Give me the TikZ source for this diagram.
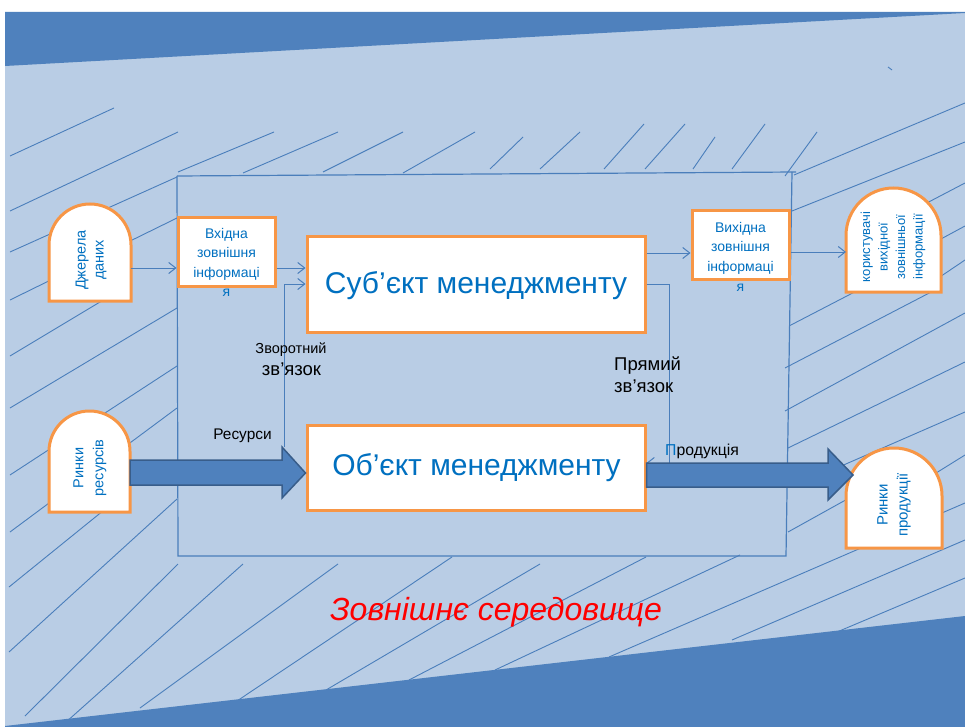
\documentclass[tikz,border=0pt]{standalone}
\usepackage{fontspec}
\setmainfont{Liberation Sans}
\usetikzlibrary{arrows.meta}
\definecolor{lightbg}{HTML}{B9CDE5}
\definecolor{darkband}{HTML}{4F81BD}
\definecolor{hatchc}{HTML}{4A7EBB}
\definecolor{orangeb}{HTML}{F79646}
\definecolor{txtblue}{HTML}{0070C0}
\definecolor{arrowdraw}{HTML}{385D8A}
\newcommand\mydome[2]{\draw[domest] (#1.south west) -- ([yshift=-#2pt]#1.north west) arc[start angle=180,end angle=0,radius=#2pt] -- (#1.south east) -- cycle;}
\begin{document}
\begin{tikzpicture}[x=1pt,y=-1pt,
  hatchline/.style={draw=hatchc, line width=0.9pt},
  framest/.style={draw=hatchc, line width=1.2pt},
  boxst/.style={draw=orangeb, line width=3pt, fill=white, inner sep=0pt},
  holder/.style={inner sep=0pt, outer sep=0pt},
  domest/.style={draw=orangeb, line width=3pt, fill=white},
  conn/.style={draw=hatchc, line width=1pt, -{Straight Barb[length=7pt,width=11pt]}},
  bigarrow/.style={fill=darkband, draw=arrowdraw, line width=1.5pt, line join=miter},
  boxtext/.style={align=center, text=txtblue, inner sep=0pt},
  rottext/.style={rotate=90, align=center, text=txtblue, inner sep=0pt},
  lbl/.style={text=black, inner sep=0pt}
]
\useasboundingbox (0,0) rectangle (965,727);
\fill[white] (0,0) rectangle (965,727);
\fill[lightbg] (5,12) rectangle (965,727);

% hatching: top
\foreach \a/\b/\c/\d in {10/156/114/108, 10/211/178/132, 178/172/274/132, 243/173/338/132,
  323/172/403/132, 403/173/475/132, 490/169/523/137, 540/169/580/132, 604/169/644/124,
  645/169/685/124, 693/169/715/137, 732/169/765/124, 785/176/817/132, 794/175/965/103,
  792/211/965/142}
  \draw[hatchline] (\a,\b) -- (\c,\d);
% hatching: left
\foreach \a/\b/\c/\d in {10/252/177/177, 10/300/177/218, 10/356/110/296, 10/408/177/308,
  10/475/177/366, 10/532/177/408, 9/587/130/489, 9/652/177/499}
  \draw[hatchline] (\a,\b) -- (\c,\d);
% hatching: right
\foreach \a/\b/\c/\d in {900/217/965/183, 915/253/965/226, 922/289/965/260, 789/326/870/284,
  785/368/935/290, 785/411/965/313, 788/448/965/362, 800/484/965/412, 920/483/965/455,
  788/532/860/492}
  \draw[hatchline] (\a,\b) -- (\c,\d);
% hatching: bottom
\foreach \a/\b/\c/\d in {25/716/178/564, 65/723/243/564, 140/708/338/564, 228/707/452/557,
  326/690/540/564, 409/680/646/557, 495/670/740/555, 609/657/965/503, 732/640/965/540,
  818/640/965/578}
  \draw[hatchline] (\a,\b) -- (\c,\d);
\draw[hatchline] (888,67) -- (892,70);

% dark bands
\fill[darkband] (5,12) -- (965,12) -- (965,13) -- (5,66) -- cycle;
\fill[darkband] (5,727) -- (5,726) -- (965,616) -- (965,727) -- cycle;

% system boundary
\draw[framest] (177,176) -- (796,172);
\draw[framest] (177,176) -- (178,556) -- (786,556) -- (792,172);

% boxes
\node[boxst, minimum width=97pt, minimum height=68pt] (in1) at (226.5,252) {};
\node[boxst, minimum width=338pt, minimum height=96pt] (subj) at (476,284) {};
\node[boxst, minimum width=338pt, minimum height=85pt] (obj) at (476,467.5) {};
\node[boxst, minimum width=97pt, minimum height=68pt] (out1) at (740.5,245) {};

% domes
\node[holder, minimum width=82pt, minimum height=97pt] (src) at (90,252.5) {};
\node[holder, minimum width=81pt, minimum height=101pt] (res) at (89.5,461.5) {};
\node[holder, minimum width=95pt, minimum height=104pt] (usr) at (893.5,240) {};
\node[holder, minimum width=96pt, minimum height=100pt] (prod) at (894,498) {};
\mydome{src}{41}
\mydome{res}{40.5}
\mydome{usr}{47.5}
\mydome{prod}{48}

% thin connectors
\coordinate (fbStart) at (284,447);
\coordinate (dirCorner) at (669,463);
\draw[conn] ([yshift=-15.5pt]src.east) -- ([yshift=-16pt]in1.west);
\draw[conn] ([yshift=-16pt]in1.east) -- ([yshift=16pt]subj.west);
\draw[conn] (fbStart) |- (subj.west);
\draw[conn] ([yshift=31pt]subj.east) -- ([yshift=-8pt]out1.west);
\draw[conn] ([yshift=-7pt]out1.east) -- (usr.west |- 0,252);
\draw[conn] (subj.east) -| (dirCorner) -- (obj.east |- dirCorner);

% big arrows
\draw[bigarrow] (res.east |- 0,460) -- (282,460) -- (282,447) -- (obj.west |- 0,473)
  -- (282,498) -- (282,485) -- (res.east |- 0,485) -- cycle;
\coordinate (prodTip) at (853,475);
\draw[bigarrow] (obj.east |- 0,463) -- (828,463) -- (828,449) -- (prodTip)
  -- (828,500) -- (828,487) -- (obj.east |- 0,487) -- cycle;

% texts
\node[boxtext, font=\fontsize{14}{19.5}\selectfont] (in1t) at (226.5,262.5) {Вхідна\\зовнішня\\інформаці\\я};
\node[boxtext, font=\fontsize{14}{19.7}\selectfont] (out1t) at (740.5,256.5) {Вихідна\\зовнішня\\інформаці\\я};
\node[boxtext, font=\fontsize{30}{34}\selectfont] (subjt) at (476,286) {Суб’єкт менеджменту};
\node[boxtext, font=\fontsize{30}{34}\selectfont] (objt) at (476.5,468) {Об’єкт менеджменту};
\node[rottext, font=\fontsize{14.5}{18}\selectfont] (srct) at (91,260) {Джерела\\даних};
\node[rottext, font=\fontsize{14.5}{20}\selectfont] (rest) at (90,468) {Ринки\\ресурсів};
\node[rottext, font=\fontsize{13}{17.5}\selectfont] (usrt) at (893,247) {користувачі\\вихідної\\зовнішньої\\інформації};
\node[rottext, font=\fontsize{15}{20}\selectfont] (prodt) at (894,505) {Ринки\\продукції};

\node[lbl, anchor=base, font=\fontsize{14.5}{17}\selectfont] (fb1) at (291,353) {Зворотний};
\node[lbl, anchor=base, font=\fontsize{18.5}{22}\selectfont] (fb2) at (291.5,375) {зв’язок};
\node[lbl, anchor=base west, font=\fontsize{18.5}{22}\selectfont] (dl1) at (614,370) {Прямий};
\node[lbl, anchor=base west, font=\fontsize{18.5}{22}\selectfont] (dl2) at (614,392) {зв’язок};
\node[lbl, anchor=base, font=\fontsize{15.4}{18}\selectfont] (resl) at (242.5,439) {Ресурси};
\node[lbl, anchor=base west, font=\fontsize{15.8}{18}\selectfont] (prodl) at (665,455) {\textcolor{txtblue}{П}родукція};
\node[anchor=base, inner sep=0pt, text=red, font=\fontsize{32}{36}\selectfont\itshape] (env) at (496,620) {Зовнішнє середовище};
\end{tikzpicture}
\end{document}
